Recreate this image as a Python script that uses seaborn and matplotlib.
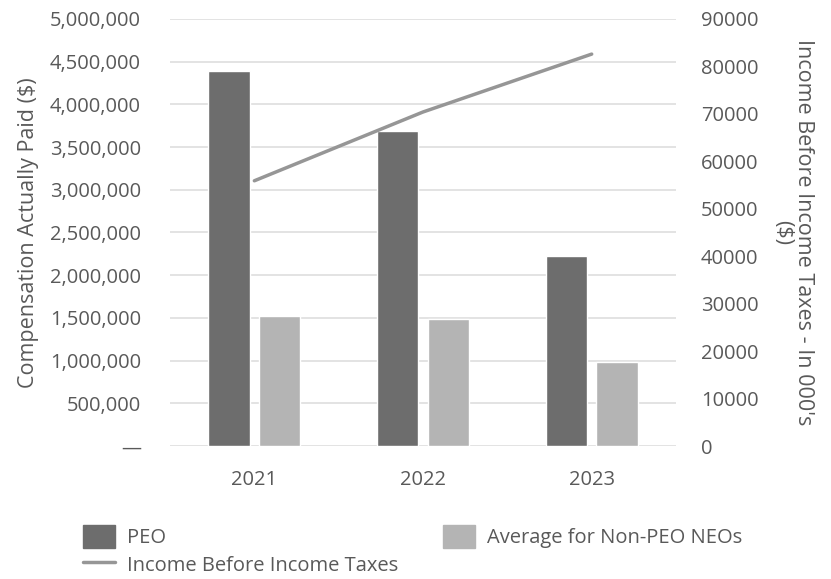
import numpy as np
import pandas as pd
import seaborn as sns
import matplotlib.pyplot as plt
from matplotlib.ticker import FuncFormatter
from matplotlib.patches import Patch
from matplotlib.lines import Line2D

years = ["2021", "2022", "2023"]
peo = [4390000, 3690000, 2225000]
non_peo = [1525000, 1485000, 978000]
income = [55900, 70400, 82600]

series_names = ["PEO", "Average for Non-PEO NEOs"]
line_name = "Income Before Income Taxes"
bar_colors = ["#6d6d6d", "#b4b4b4"]
line_color = "#969696"
text_color = "#595959"

sns.set_style("white")
plt.rcParams["font.family"] = ["Open Sans", "DejaVu Sans"]

df = pd.DataFrame({
    "year": years * 2,
    "value": peo + non_peo,
    "series": [series_names[0]] * 3 + [series_names[1]] * 3,
})

fig = plt.figure(figsize=(8.31, 5.79), dpi=100)
ax = fig.add_axes([0.2046, 0.2297, 0.6089, 0.7375])

sns.barplot(data=df, x="year", y="value", hue="series", palette=bar_colors,
            width=0.6, gap=0.18, ax=ax, legend=False, saturation=1)
ax.set_xlim(-0.5, 2.5)
ax.set_ylim(0, 5000000)
ax.set_yticks(np.arange(0, 5000001, 500000))
ax.yaxis.set_major_formatter(FuncFormatter(lambda v, p: "—" if v == 0 else f"{int(v):,}"))
ax.grid(axis="y", color="#dedede", linewidth=1.2)
ax.set_axisbelow(True)
for s in ax.spines.values():
    s.set_visible(False)
ax.tick_params(axis="y", length=0, pad=21, labelsize=14.5, labelcolor=text_color)
ax.tick_params(axis="x", length=0, pad=17, labelsize=14.5, labelcolor=text_color)
ax.set_xlabel("")
ax.set_ylabel("Compensation Actually Paid ($)", fontsize=15.5, color=text_color, labelpad=8)

ax2 = ax.twinx()
sns.lineplot(x=list(range(len(years))), y=income, color=line_color, linewidth=2.5, ax=ax2)
ax2.set_ylim(0, 90000)
ax2.set_yticks(np.arange(0, 90001, 10000))
for s in ax2.spines.values():
    s.set_visible(False)
ax2.tick_params(axis="y", length=0, pad=18, labelsize=14.5, labelcolor=text_color)
ax2.set_ylabel("Income Before Income Taxes - In 000's\n($)", rotation=270, fontsize=15.5,
               color=text_color, labelpad=40, linespacing=1.0)

handles = [Patch(color=bar_colors[0], label=series_names[0]),
           Line2D([0], [0], color=line_color, linewidth=2.5, label=line_name),
           Patch(color=bar_colors[1], label=series_names[1])]
leg = fig.legend(handles=handles, ncol=2, loc="upper left", bbox_to_anchor=(0.078, 0.125),
                 frameon=False, fontsize=14.5, columnspacing=2.2, handlelength=1.6,
                 handleheight=1.4, handletextpad=0.6, labelspacing=0.25)
for t in leg.get_texts():
    t.set_color(text_color)

fig.savefig("out.png", dpi=100)
